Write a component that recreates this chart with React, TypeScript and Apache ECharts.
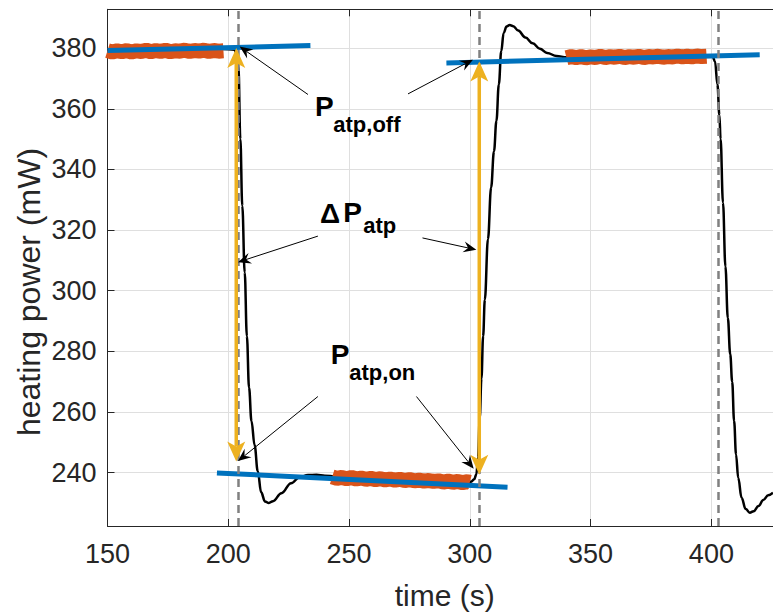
import React, { useEffect, useRef } from "react";
import * as echarts from "echarts";

// ---- axis ticks ----
const timeTicks = [150, 200, 250, 300, 350, 400];
const powerTicks = [240, 260, 280, 300, 320, 340, 360, 380];

// ---- measured heating power trace (black) ----
const traceTime = [
  150, 160, 170, 180, 190, 198, 202.5, 203.6, 204.2, 205.0, 205.8, 206.8, 207.7, 208.6, 209.6,
  210.9, 212.2, 213.6, 215.2, 216.8, 218.5, 222, 226, 229.5, 233, 236.5, 240, 250, 260, 270, 280,
  290, 298, 300.5, 301.8, 302.7, 303.4, 304.1, 304.8, 305.5, 306.2, 307.5, 308.8, 310, 311, 312,
  313, 314, 315.2, 316.5, 318, 320, 323, 326, 329, 332, 335.9, 340, 350, 360, 370, 380, 390, 398,
  400.5, 401.5, 402.5, 403.3, 403.8, 404.8, 405.8, 406.8, 407.8, 408.6, 409.4, 410.2, 411.1, 412.5,
  414.2, 415.9, 417.5, 419.5, 421.5, 423.5, 425.5,
];
const tracePower = [
  379.3, 379.4, 379.5, 379.5, 379.6, 379.7, 379.5, 378, 374, 350, 328, 306, 285, 268, 257,
  249, 240.5, 233.5, 230.5, 230, 230.6, 233.2, 236.5, 238.5, 239.2, 239.3, 239, 238.2, 238, 237.7, 237.3,
  237, 236.8, 237, 237.8, 239.5, 245, 258, 271, 285, 297, 317, 334, 346, 356, 368,
  379, 385, 387.1, 387.6, 387.2, 385.8, 383.5, 381.6, 379.8, 378.4, 377.4, 377, 377, 377.1, 377.2, 377.3, 377.4, 377.5,
  377.2, 375.6, 368, 358, 350, 329, 308, 291, 279, 270, 257, 246, 238.3, 231.7,
  228, 226.8, 227.3, 229, 231, 232.5, 233.4,
];

// ---- selected steady-state data (orange) ----
const offLeftTime = [150, 152, 154, 156, 158, 160, 162, 164, 166, 168, 170, 172, 174, 176, 178, 180, 182, 184, 186, 188, 190, 192, 194, 196, 198];
const offLeftPower = [379.2, 378.7, 379.1, 378.8, 379.2, 378.7, 379.1, 378.9, 379.3, 378.8, 379.2, 378.9, 379.3, 378.8, 379.1, 379.0, 379.3, 378.9, 379.2, 379.0, 379.3, 378.9, 379.2, 379.0, 379.1];

const onTime = [243, 245, 247, 249, 251, 253, 255, 257, 259, 261, 263, 265, 267, 269, 271, 273, 275, 277, 279, 281, 283, 285, 287, 289, 291, 293, 295, 297, 299, 300];
const onPower = [238.6, 238.1, 238.4, 238.0, 238.4, 237.9, 238.2, 237.8, 238.1, 237.7, 238.0, 237.6, 237.9, 237.5, 237.8, 237.4, 237.7, 237.3, 237.5, 237.2, 237.4, 237.1, 237.3, 236.9, 237.2, 236.8, 237.1, 236.7, 237.0, 236.8];

const offRightTime = [340, 342, 344, 346, 348, 350, 352, 354, 356, 358, 360, 362, 364, 366, 368, 370, 372, 374, 376, 378, 380, 382, 384, 386, 388, 390, 392, 394, 396, 398];
const offRightPower = [376.8, 377.2, 376.9, 377.2, 376.8, 377.1, 376.9, 377.3, 376.9, 377.2, 377.0, 377.3, 376.9, 377.2, 377.0, 377.3, 376.9, 377.2, 377.1, 377.3, 377.0, 377.2, 377.1, 377.4, 377.1, 377.3, 377.1, 377.4, 377.2, 377.3];

// ---- linear fits (blue) ----
const fitOffLeftTime = [150, 234];
const fitOffLeftPower = [379.2, 380.85];
const fitOnTime = [195.3, 315.6];
const fitOnPower = [239.9, 235.2];
const fitOffRightTime = [290.3, 420];
const fitOffRightPower = [375.1, 377.8];

// ---- switching instants (dashed) ----
const switchTimes = [204, 304, 403];

// ---- ΔP arrows (yellow, double-headed): [t1, p1, t2, p2] ----
const deltaArrows = [
  [203.3, 380.0, 203.3, 243.7],
  [303.9, 375.6, 303.9, 239.3],
];

// ---- pointer arrows (black): tail -> tip ----
const pointerArrows = [
  [233.0, 364.7, 204.7, 380.5],
  [274.4, 364.9, 301.3, 376.2],
  [237.1, 318.0, 204.0, 309.4],
  [280.4, 317.4, 302.7, 313.5],
  [237.1, 265.1, 204.0, 243.8],
  [277.9, 265.1, 301.6, 241.3],
];

const FONT = "'Liberation Sans', Arial, Helvetica, sans-serif";
const AX = "#262626";

function zip(a: number[], b: number[]) {
  return a.map((v, i) => [v, b[i]]);
}

function arrowRender(color: string, lw: number, L: number, W: number, notch: number, both: boolean) {
  return (params: any, api: any) => {
    const a = api.coord([api.value(0), api.value(1)]);
    const b = api.coord([api.value(2), api.value(3)]);
    const dx = b[0] - a[0];
    const dy = b[1] - a[1];
    const len = Math.sqrt(dx * dx + dy * dy) || 1;
    const ux = dx / len;
    const uy = dy / len;
    const nx = -uy;
    const ny = ux;
    const head = (tip: number[], sx: number, sy: number) => [
      [tip[0], tip[1]],
      [tip[0] - sx * L + nx * W, tip[1] - sy * L + ny * W],
      [tip[0] - sx * L * notch, tip[1] - sy * L * notch],
      [tip[0] - sx * L - nx * W, tip[1] - sy * L - ny * W],
    ];
    const start = both ? [a[0] + ux * L * notch, a[1] + uy * L * notch] : a;
    const end = [b[0] - ux * L * notch, b[1] - uy * L * notch];
    const children: any[] = [
      {
        type: "line",
        shape: { x1: start[0], y1: start[1], x2: end[0], y2: end[1] },
        style: { stroke: color, lineWidth: lw },
      },
      { type: "polygon", shape: { points: head(b, ux, uy) }, style: { fill: color } },
    ];
    if (both) {
      children.push({ type: "polygon", shape: { points: head(a, -ux, -uy) }, style: { fill: color } });
    }
    return { type: "group", children };
  };
}

export default function App() {
  const ref = useRef<HTMLDivElement>(null);
  useEffect(() => {
    if (!ref.current) return;
    const chart = echarts.init(ref.current, null, { renderer: "svg" });
    const orange = "#D95319";
    const blue = "#0072BD";
    const txt = (x: number, y: number, text: string, size: number) => ({
      type: "text",
      x,
      y,
      z: 100,
      style: {
        text,
        fontSize: size,
        fontWeight: "bold",
        fontFamily: FONT,
        fill: "#000",
        align: "left",
        verticalAlign: "middle",
      },
    });
    chart.setOption({
      animation: false,
      textStyle: { fontFamily: FONT },
      grid: { left: 107.5, right: 0, top: 9.3, bottom: 86.7, containLabel: false },
      xAxis: [
        {
          type: "value",
          min: 150,
          max: 425.5,
          interval: 50,
          position: "bottom",
          axisLine: { show: true, lineStyle: { color: AX, width: 1 } },
          axisTick: { show: true, inside: true, length: 7, lineStyle: { color: AX } },
          axisLabel: {
            fontSize: 27,
            color: AX,
            margin: 14,
            showMaxLabel: false,
            formatter: (v: number) => (timeTicks.includes(v) ? String(v) : ""),
          },
          splitLine: { show: true, lineStyle: { color: "#dfdfdf", width: 1 } },
          name: "time (s)",
          nameLocation: "middle",
          nameGap: 54,
          nameTextStyle: { fontSize: 30, color: AX, padding: [0, 0, 0, 9] },
        },
        {
          type: "value",
          min: 150,
          max: 425.5,
          interval: 50,
          position: "top",
          axisLine: { show: true, lineStyle: { color: AX, width: 1 } },
          axisTick: { show: true, inside: true, length: 7, lineStyle: { color: AX } },
          axisLabel: { show: false },
          splitLine: { show: false },
        },
      ],
      yAxis: {
        type: "value",
        min: 222.4,
        max: 392.8,
        splitNumber: 8,
        minInterval: 20,
        maxInterval: 20,
        axisLine: { show: true, lineStyle: { color: AX, width: 1 } },
        axisTick: { show: true, inside: true, length: 7, lineStyle: { color: AX } },
        axisLabel: {
          fontSize: 27,
          color: AX,
          margin: 11,
          showMinLabel: false,
          showMaxLabel: false,
          formatter: (v: number) => (powerTicks.includes(v) ? String(v) : ""),
        },
        splitLine: { show: true, lineStyle: { color: "#dfdfdf", width: 1 } },
      },
      series: [
        {
          type: "line",
          data: [],
          z: 1,
          silent: true,
          markLine: {
            silent: true,
            symbol: "none",
            label: { show: false },
            lineStyle: { color: "#808080", width: 2.5, type: [8, 5] },
            data: switchTimes.map((t) => ({ xAxis: t })),
          },
        },
        {
          type: "line",
          data: zip(traceTime, tracePower),
          showSymbol: false,
          smooth: 0.4,
          smoothMonotone: "x",
          z: 2,
          lineStyle: { color: "#000", width: 2.5 },
        },
        ...[
          [offLeftTime, offLeftPower],
          [onTime, onPower],
          [offRightTime, offRightPower],
        ].map(([t, p]) => ({
          type: "line",
          data: zip(t, p),
          showSymbol: false,
          z: 3,
          lineStyle: { color: orange, width: 15, join: "bevel", cap: "butt" },
        })),
        ...[
          [fitOffLeftTime, fitOffLeftPower],
          [fitOnTime, fitOnPower],
          [fitOffRightTime, fitOffRightPower],
        ].map(([t, p]) => ({
          type: "line",
          data: zip(t, p),
          showSymbol: false,
          z: 4,
          lineStyle: { color: blue, width: 5 },
        })),
        {
          type: "custom",
          z: 5,
          data: deltaArrows,
          encode: { x: [0, 2], y: [1, 3] },
          renderItem: arrowRender("#EDB120", 3.5, 20, 9, 0.75, true),
        },
        {
          type: "custom",
          z: 6,
          data: pointerArrows,
          encode: { x: [0, 2], y: [1, 3] },
          renderItem: arrowRender("#000", 1, 13, 5.5, 0.65, false),
        },
      ],
      graphic: [
        {
          type: "text",
          x: 29,
          y: 292,
          rotation: Math.PI / 2,
          z: 100,
          style: {
            text: "heating power (mW)",
            fontSize: 32,
            fontFamily: FONT,
            fill: AX,
            align: "center",
            verticalAlign: "middle",
          },
        },
        txt(315, 106.7, "P", 28),
        txt(333.3, 124.4, "atp,off", 22),
        txt(320, 213.3, "Δ", 28),
        txt(343.3, 212.5, "P", 28),
        txt(363.3, 225.7, "atp", 22),
        txt(330.7, 354, "P", 28),
        txt(349.3, 372.4, "atp,on", 22),
      ],
    });
    return () => chart.dispose();
  }, []);
  return (
    <div
      ref={ref}
      style={{ position: "absolute", left: 0, top: 0, width: 773, height: 615, background: "#fff" }}
    />
  );
}
